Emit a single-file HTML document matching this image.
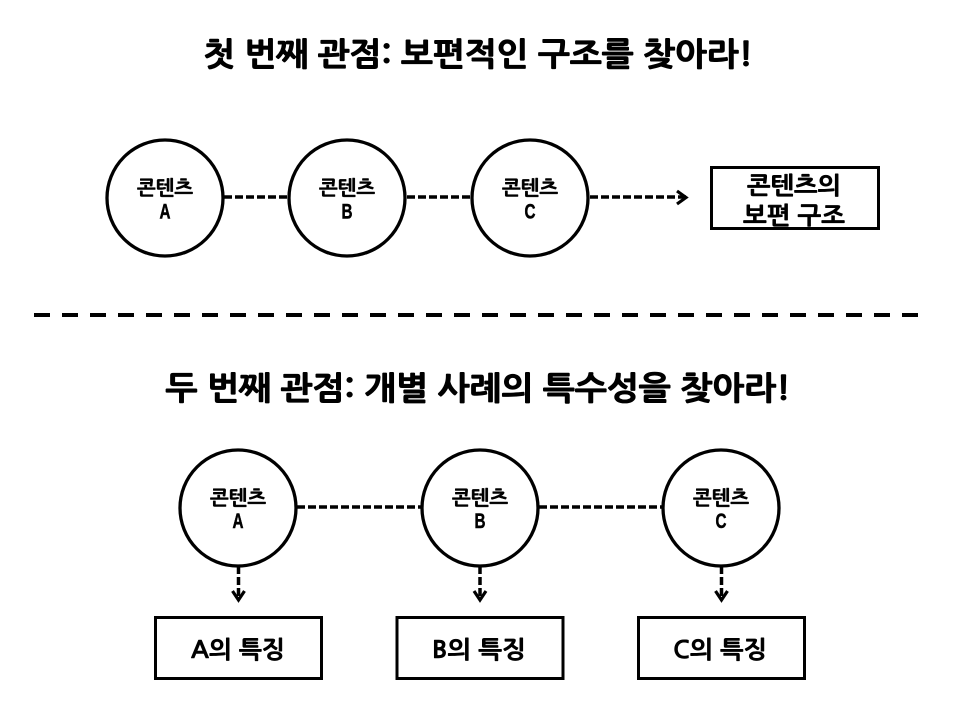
<!DOCTYPE html>
<html lang="ko">
<head>
<meta charset="utf-8">
<style>
html,body{margin:0;padding:0;background:#fff}
svg{display:block}
text{font-family:"NanumGothic","Liberation Sans","Noto Sans CJK KR",sans-serif;font-weight:bold;fill:#000;text-anchor:middle}
.t{font-size:32px;stroke:#000;stroke-width:1px}
.c{font-size:20px;stroke:#000;stroke-width:.5px}
.l{font-family:"Liberation Sans",sans-serif;font-size:21px;stroke:#000;stroke-width:.5px}
.b{font-size:24px;stroke:#000;stroke-width:.6px}
circle{fill:#fff;stroke:#000;stroke-width:3.3}
rect{fill:#fff;stroke:#000;stroke-width:3}
.d{stroke:#000;stroke-width:3.5;stroke-dasharray:8 3;fill:none}
.a{stroke:#000;stroke-width:3.2;fill:none}
</style>
</head>
<body>
<svg width="960" height="720" viewBox="0 0 960 720" xmlns="http://www.w3.org/2000/svg">
<text class="t" x="478" y="65.500" textLength="550" lengthAdjust="spacingAndGlyphs">첫 번째 관점: 보편적인 구조를 찾아라!</text>
<line class="d" x1="224" y1="197" x2="288" y2="197"/>
<line class="d" x1="407" y1="197" x2="471" y2="197"/>
<line class="d" x1="590" y1="197" x2="686" y2="197"/>
<path class="a" d="M677 191l9 6.500-9 6.500"/>
<circle cx="165" cy="198" r="58"/>
<circle cx="347" cy="198" r="58"/>
<circle cx="530" cy="198" r="58"/>
<text class="c" x="165" y="195" textLength="56" lengthAdjust="spacingAndGlyphs">콘텐츠</text>
<text class="l" x="165" y="218.500" textLength="11" lengthAdjust="spacingAndGlyphs">A</text>
<text class="c" x="347" y="195" textLength="56" lengthAdjust="spacingAndGlyphs">콘텐츠</text>
<text class="l" x="347" y="218.500" textLength="11" lengthAdjust="spacingAndGlyphs">B</text>
<text class="c" x="530" y="195" textLength="56" lengthAdjust="spacingAndGlyphs">콘텐츠</text>
<text class="l" x="530" y="218.500" textLength="11" lengthAdjust="spacingAndGlyphs">C</text>
<rect x="711.500" y="167.500" width="167" height="61"/>
<text class="b" x="794" y="194" textLength="94" lengthAdjust="spacingAndGlyphs">콘텐츠의</text>
<text class="b" x="794" y="224" textLength="102" lengthAdjust="spacingAndGlyphs">보편 구조</text>
<line x1="34" y1="315" x2="918" y2="315" stroke="#000" stroke-width="4" stroke-dasharray="16 12"/>
<text class="t" x="478" y="399.500" textLength="625" lengthAdjust="spacingAndGlyphs">두 번째 관점: 개별 사례의 특수성을 찾아라!</text>
<line class="d" x1="297" y1="507" x2="422" y2="507"/>
<line class="d" x1="539" y1="507" x2="663" y2="507"/>
<circle cx="238" cy="508" r="58"/>
<circle cx="480" cy="508" r="58"/>
<circle cx="721" cy="508" r="58"/>
<text class="c" x="238" y="505" textLength="56" lengthAdjust="spacingAndGlyphs">콘텐츠</text>
<text class="l" x="238" y="528" textLength="11" lengthAdjust="spacingAndGlyphs">A</text>
<text class="c" x="480" y="505" textLength="56" lengthAdjust="spacingAndGlyphs">콘텐츠</text>
<text class="l" x="480" y="528" textLength="11" lengthAdjust="spacingAndGlyphs">B</text>
<text class="c" x="721" y="505" textLength="56" lengthAdjust="spacingAndGlyphs">콘텐츠</text>
<text class="l" x="721" y="528" textLength="11" lengthAdjust="spacingAndGlyphs">C</text>
<line class="d" x1="238.500" y1="566" x2="238.500" y2="600"/>
<path class="a" d="M232.500 591l6 9 6-9"/>
<line class="d" x1="480" y1="566" x2="480" y2="600"/>
<path class="a" d="M474 591l6 9 6-9"/>
<line class="d" x1="721.500" y1="566" x2="721.500" y2="600"/>
<path class="a" d="M715.500 591l6 9 6-9"/>
<rect x="155.500" y="617.500" width="166" height="61"/>
<rect x="397" y="617.500" width="166" height="61"/>
<rect x="638.500" y="617.500" width="166" height="61"/>
<text class="b" x="238" y="658" textLength="94" lengthAdjust="spacingAndGlyphs">A의 특징</text>
<text class="b" x="479" y="658" textLength="94" lengthAdjust="spacingAndGlyphs">B의 특징</text>
<text class="b" x="720" y="658" textLength="94" lengthAdjust="spacingAndGlyphs">C의 특징</text>
</svg>
</body>
</html>
